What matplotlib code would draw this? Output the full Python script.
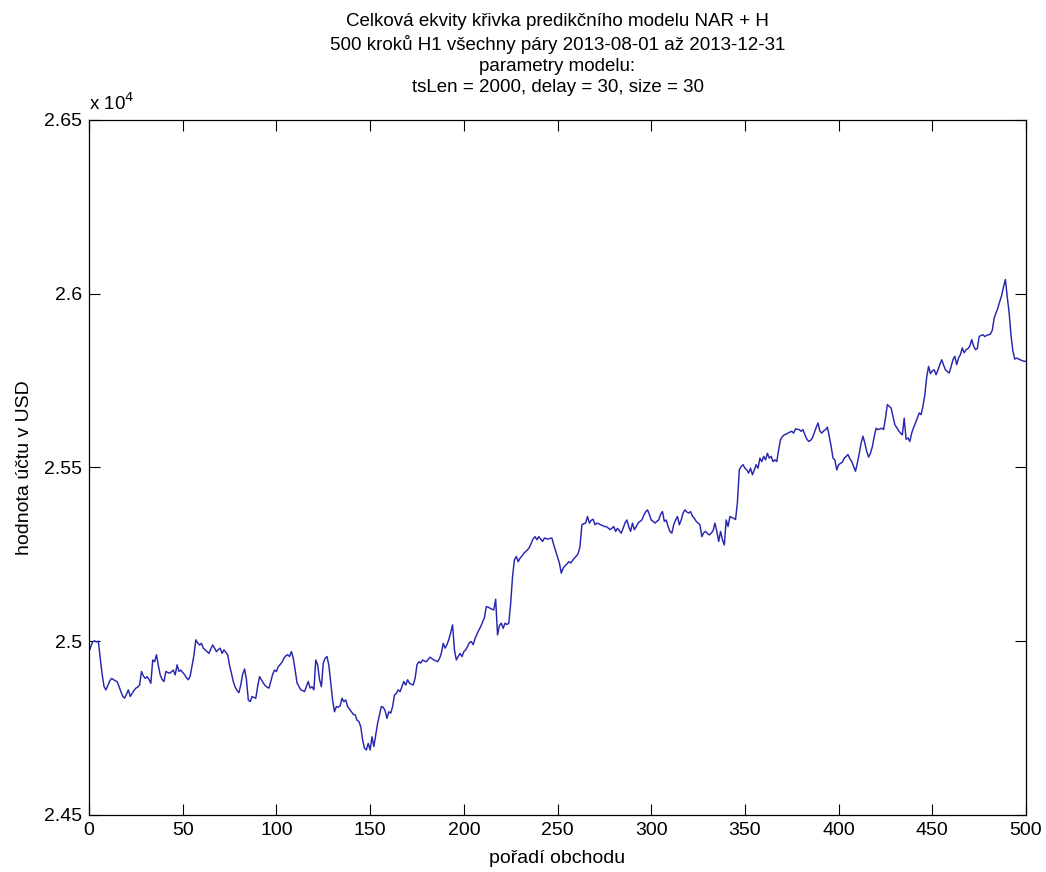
import matplotlib
matplotlib.use("Agg")
import matplotlib.pyplot as plt
from matplotlib.ticker import FuncFormatter
import numpy as np

plt.rcParams['font.family'] = ['Liberation Sans', 'DejaVu Sans']

# Account value (USD) after each trade, trades 0..500
equity_000_099 = [
    24970, 24985, 24999, 25001, 24998, 25000, 24950, 24905, 24870, 24860,
    24872, 24885, 24893, 24890, 24886, 24884, 24870, 24855, 24842, 24836,
    24848, 24860, 24841, 24850, 24858, 24865, 24868, 24874, 24913, 24900,
    24893, 24898, 24890, 24879, 24946, 24941, 24961, 24930, 24903, 24890,
    24884, 24913, 24910, 24908, 24912, 24917, 24903, 24932, 24913, 24917,
    24910, 24904, 24895, 24889, 24900, 24930, 24960, 25004, 24995, 24989,
    24994, 24980, 24975, 24970, 24965, 24978, 24989, 24980, 24970, 24976,
    24980, 24965, 24975, 24968, 24961, 24930, 24908, 24884, 24868, 24858,
    24852, 24875, 24905, 24920, 24890, 24831, 24826, 24841, 24838, 24836,
    24870, 24898, 24889, 24880, 24872, 24868, 24865, 24884, 24905, 24917,
]
equity_100_199 = [
    24913, 24927, 24933, 24940, 24951, 24958, 24961, 24956, 24970, 24951,
    24917, 24880, 24870, 24860, 24858, 24855, 24870, 24884, 24865, 24869,
    24860, 24946, 24932, 24890, 24869, 24937, 24951, 24956, 24930, 24879,
    24830, 24797, 24812, 24810, 24814, 24836, 24826, 24831, 24812, 24805,
    24797, 24790, 24788, 24773, 24769, 24754, 24716, 24692, 24687, 24706,
    24687, 24725, 24697, 24730, 24764, 24788, 24812, 24810, 24800, 24778,
    24797, 24793, 24812, 24845, 24850, 24860, 24855, 24870, 24884, 24874,
    24889, 24879, 24876, 24874, 24893, 24932, 24941, 24937, 24946, 24943,
    24941, 24948, 24954, 24950, 24946, 24944, 24941, 24950, 24965, 24994,
    24980, 24990, 25005, 25025, 25047, 24975, 24946, 24956, 24965, 24956,
]
equity_200_299 = [
    24970, 24975, 24985, 24996, 24999, 24990, 25008, 25020, 25032, 25042,
    25055, 25068, 25100, 25098, 25095, 25092, 25090, 25121, 25018, 25045,
    25052, 25037, 25052, 25048, 25052, 25109, 25186, 25234, 25244, 25229,
    25239, 25245, 25253, 25258, 25263, 25270, 25282, 25295, 25301, 25292,
    25301, 25294, 25287, 25297, 25295, 25294, 25296, 25297, 25277, 25260,
    25244, 25225, 25196, 25210, 25217, 25222, 25229, 25225, 25232, 25239,
    25245, 25252, 25273, 25335, 25338, 25340, 25359, 25340, 25348, 25351,
    25335, 25340, 25338, 25335, 25333, 25330, 25330, 25326, 25321, 25325,
    25330, 25316, 25325, 25318, 25311, 25325, 25340, 25349, 25330, 25316,
    25340, 25321, 25330, 25340, 25345, 25349, 25362, 25372, 25378, 25365,
]
equity_300_399 = [
    25349, 25345, 25340, 25345, 25349, 25365, 25373, 25345, 25349, 25330,
    25316, 25311, 25335, 25349, 25359, 25335, 25349, 25369, 25378, 25372,
    25369, 25373, 25360, 25354, 25345, 25340, 25335, 25301, 25312, 25316,
    25310, 25306, 25311, 25318, 25340, 25316, 25287, 25316, 25292, 25277,
    25349, 25330, 25359, 25356, 25354, 25350, 25400, 25493, 25503, 25508,
    25498, 25493, 25484, 25498, 25479, 25493, 25508, 25498, 25527, 25517,
    25532, 25522, 25541, 25527, 25532, 25517, 25522, 25517, 25551, 25580,
    25589, 25594, 25596, 25599, 25602, 25604, 25599, 25611, 25610, 25609,
    25604, 25609, 25594, 25582, 25575, 25578, 25585, 25600, 25615, 25628,
    25605, 25599, 25605, 25609, 25616, 25590, 25561, 25527, 25522, 25493,
]
equity_400_500 = [
    25508, 25512, 25515, 25527, 25532, 25537, 25525, 25517, 25503, 25489,
    25513, 25540, 25570, 25590, 25570, 25546, 25530, 25541, 25560, 25589,
    25613, 25609, 25611, 25613, 25609, 25642, 25681, 25676, 25671, 25647,
    25623, 25615, 25606, 25599, 25594, 25642, 25581, 25585, 25575, 25599,
    25615, 25628, 25642, 25657, 25652, 25676, 25709, 25760, 25791, 25770,
    25778, 25781, 25767, 25781, 25796, 25810, 25795, 25781, 25776, 25772,
    25790, 25810, 25820, 25796, 25815, 25825, 25844, 25830, 25839, 25842,
    25849, 25868, 25850, 25839, 25842, 25877, 25880, 25882, 25877, 25880,
    25882, 25884, 25895, 25930, 25945, 25959, 25978, 25995, 26020, 26041,
    25990, 25945, 25880, 25835, 25812, 25815, 25812, 25810, 25807, 25806,
    25805,
]

equity = np.array(equity_000_099 + equity_100_199 + equity_200_299
                  + equity_300_399 + equity_400_500, dtype=float)
trades = np.arange(len(equity))

x_ticks = [0, 50, 100, 150, 200, 250, 300, 350, 400, 450, 500]
y_ticks = [24500, 25000, 25500, 26000, 26500]

title_lines = [
    "Celková ekvity křivka predikčního modelu NAR + H",
    "500 kroků H1 všechny páry 2013-08-01 až 2013-12-31",
    "parametry modelu:",
    "tsLen = 2000, delay = 30, size = 30",
]

fig = plt.figure(figsize=(10.46, 8.72), dpi=100)
ax = fig.add_axes([0.0851, 0.0654, 0.8958, 0.797])

ax.plot(trades, equity, color='#2626b0', linewidth=1.05)

ax.set_xlim(0, 500)
ax.set_ylim(24500, 26500)
ax.set_xticks(x_ticks)
ax.set_yticks(y_ticks)
ax.yaxis.set_major_formatter(FuncFormatter(lambda v, _: f"{v / 1e4:g}"))

fs = 13.5
ax.tick_params(axis='both', direction='in', length=8, width=0.8,
               top=True, right=True, labelsize=14, pad=5, colors='black')
for sp in ax.spines.values():
    sp.set_linewidth(0.9)

ax.set_xlabel("pořadí obchodu", fontsize=14, labelpad=8)
ax.set_ylabel("hodnota účtu v USD", fontsize=14, labelpad=8)
ax.set_title("\n".join(title_lines), fontsize=fs, linespacing=1.31, pad=20)

ax.text(0.0, 1.008, r"x 10$^4$", transform=ax.transAxes, fontsize=fs,
        ha='left', va='bottom')

fig.savefig("out.png", dpi=100, facecolor='white')
